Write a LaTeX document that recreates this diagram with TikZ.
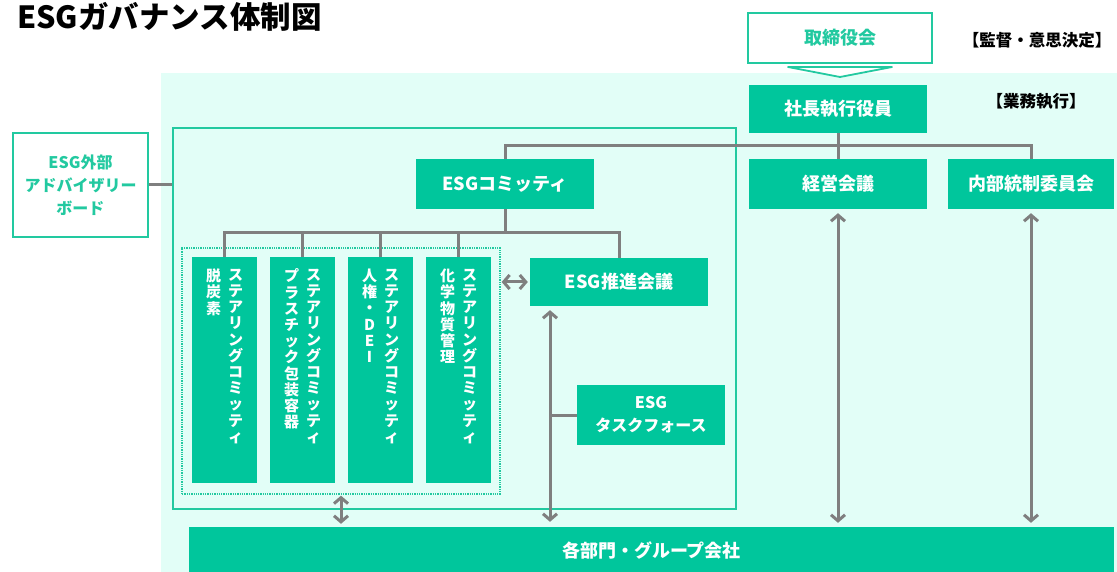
\documentclass[tikz,border=0pt]{standalone}
\usepackage{fontspec}
\newfontfamily\jp{Noto Sans CJK JP}
\usetikzlibrary{arrows.meta}
\definecolor{tealf}{HTML}{00C69C}
\definecolor{tealb}{HTML}{22C9A0}
\definecolor{bgc}{HTML}{E2FEF7}
\definecolor{gr}{HTML}{7F7F7F}
\begin{document}
\begin{tikzpicture}[x=1pt,y=-1pt,
  fbox/.style={fill=tealf, draw=none, text=white, inner sep=0, align=center,
    font=\jp\bfseries\fontsize{18}{22}\selectfont},
  obox/.style={fill=white, draw=tealb, line width=2.2pt, text=tealb, inner sep=0, align=center,
    font=\jp\bfseries\fontsize{18}{22}\selectfont},
  vt/.style={text=white, inner sep=0, align=center, anchor=north,
    font=\jp\bfseries\fontsize{15}{16.2}\selectfont},
  lbl/.style={inner sep=0, text=black, font=\jp\bfseries\fontsize{16.5}{20}\selectfont},
  conn/.style={draw=gr, line width=3pt},
  tip/.tip={Straight Barb[length=6pt,width=14pt]},
  dbl/.style={conn, tip-tip}
]
\useasboundingbox (0,0) rectangle (1117,572);
% background
\fill[bgc] (161,73) rectangle (1117,572);
% title
\node[anchor=west, inner sep=0, font=\jp\bfseries\fontsize{30.5}{36}\selectfont] (title) at (17,17) {ESGガバナンス体制図};
% board
\node[obox, minimum width=184pt, minimum height=50pt] (board) at (840,38) {取締役会};
\draw[tealb, fill=white, line width=1.8pt, line join=round] (788,67) -- (892,67) -- (840,77) -- cycle;
\node[lbl] (lab1) at (1037,40) {【監督・意思決定】};
\node[lbl] (lab2) at (1036,101) {【業務執行】};
% frames
\node[draw=tealb, line width=2.4pt, minimum width=563pt, minimum height=381pt, inner sep=0] (frame) at (454.5,318.5) {};
\node[draw=tealb, line width=1.3pt, dash pattern=on 1.3pt off 1pt, minimum width=318pt, minimum height=246pt, inner sep=0] (grp) at (341,371) {};
% boxes
\node[fbox, minimum width=178pt, minimum height=48pt] (ceo) at (838,109) {社長執行役員};
\node[fbox, minimum width=178pt, minimum height=50pt] (esgc) at (505,184) {ESGコミッティ};
\node[fbox, minimum width=178pt, minimum height=50pt] (keiei) at (838,184) {経営会議};
\node[fbox, minimum width=166pt, minimum height=50pt] (naibu) at (1031,184) {内部統制委員会};
\node[obox, minimum width=135pt, minimum height=104pt, font=\jp\bfseries\fontsize{16}{23}\selectfont] (adv) at (80.5,185) {ESG外部\\アドバイザリー\\ボード};
\node[fbox, minimum width=65pt, minimum height=226pt] (s1) at (224.5,370) {};
\node[fbox, minimum width=65pt, minimum height=226pt] (s2) at (302.5,370) {};
\node[fbox, minimum width=65pt, minimum height=226pt] (s3) at (380.5,370) {};
\node[fbox, minimum width=65pt, minimum height=226pt] (s4) at (458.5,370) {};
\node[fbox, minimum width=178pt, minimum height=48pt] (suishin) at (619,282) {ESG推進会議};
\node[fbox, minimum width=148pt, minimum height=60pt, font=\jp\bfseries\fontsize{16}{23}\selectfont] (task) at (651,415) {ESG\\タスクフォース};
\node[fbox, minimum width=925pt, minimum height=46pt] (bar) at (651.5,550) {各部門・グループ会社};
% vertical texts
\node[vt] (s1r) at ([xshift=11pt,yshift=-12pt]s1.north) {ス\\テ\\ア\\リ\\ン\\グ\\コ\\ミ\\ッ\\テ\\ィ};
\node[vt] (s1l) at ([xshift=-11pt,yshift=-12pt]s1.north) {脱\\炭\\素};
\node[vt] (s2r) at ([xshift=11pt,yshift=-12pt]s2.north) {ス\\テ\\ア\\リ\\ン\\グ\\コ\\ミ\\ッ\\テ\\ィ};
\node[vt] (s2l) at ([xshift=-11pt,yshift=-12pt]s2.north) {プ\\ラ\\ス\\チ\\ッ\\ク\\包\\装\\容\\器};
\node[vt] (s3r) at ([xshift=11pt,yshift=-12pt]s3.north) {ス\\テ\\ア\\リ\\ン\\グ\\コ\\ミ\\ッ\\テ\\ィ};
\node[vt] (s3l) at ([xshift=-11pt,yshift=-12pt]s3.north) {人\\権\\・\\D\\E\\I};
\node[vt] (s4r) at ([xshift=11pt,yshift=-12pt]s4.north) {ス\\テ\\ア\\リ\\ン\\グ\\コ\\ミ\\ッ\\テ\\ィ};
\node[vt] (s4l) at ([xshift=-11pt,yshift=-12pt]s4.north) {化\\学\\物\\質\\管\\理};
% coordinates
\coordinate (bus) at (505,146);
\coordinate (bus2) at (505,233);
\coordinate (va) at (550,300);
% connectors
\draw[conn] (ceo.south) -- (keiei.north);
\draw[conn] (esgc.north) -- (esgc.north |- bus) -- (naibu.north |- bus) -- (naibu.north);
\draw[conn] (esgc.south) -- (esgc.south |- bus2);
\draw[conn] (s1.north) -- (s1.north |- bus2) -- (suishin.north |- bus2) -- (suishin.north);
\draw[conn] (s2.north) -- (s2.north |- bus2);
\draw[conn] (s3.north) -- (s3.north |- bus2);
\draw[conn] (s4.north) -- (s4.north |- bus2);
\draw[conn] (adv.east) -- (frame.west |- adv.east);
\draw[dbl, shorten <=1pt, shorten >=2pt] (grp.east |- suishin.west) -- (suishin.west);
\draw[dbl, shorten <=4pt, shorten >=5pt] (va |- suishin.south) -- (va |- bar.north);
\draw[conn] (task.west) -- (va |- task.west);
\draw[dbl, shorten <=1pt, shorten >=3pt] (grp.south) -- (grp.south |- bar.north);
\draw[dbl, shorten <=4pt, shorten >=4pt] (keiei.south) -- (keiei.south |- bar.north);
\draw[dbl, shorten <=4pt, shorten >=4pt] (naibu.south) -- (naibu.south |- bar.north);
\end{tikzpicture}
\end{document}
